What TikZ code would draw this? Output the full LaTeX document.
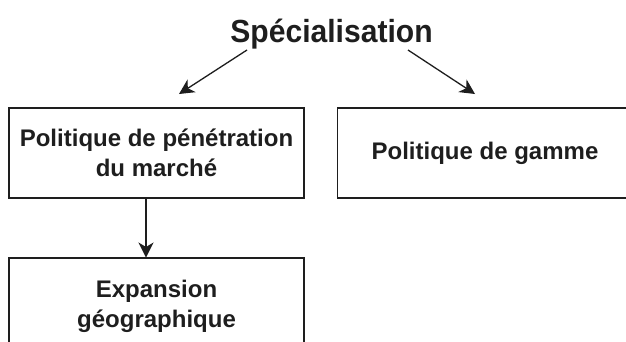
\documentclass[tikz,border=0pt]{standalone}
\usepackage{fontspec}
\setmainfont{Liberation Sans}
\newfontfamily\titlefont{Liberation Sans}[FakeStretch=0.94]
\usetikzlibrary{arrows.meta}
\definecolor{ink}{HTML}{1E1E1E}
\tikzset{
  box/.style={draw=ink, line width=1.4pt, minimum width=295pt, minimum height=90pt,
    align=center, inner sep=0pt, text=ink,
    font=\fontsize{24}{30}\selectfont\bfseries},
  conn/.style={draw=ink, line width=1.3pt,
    -{Stealth[length=15pt, width=15pt, inset=4.5pt]}}
}
\begin{document}
\begin{tikzpicture}[x=1pt, y=-1pt]
\useasboundingbox (0,0) rectangle (626,341);
\node[text=ink, font=\titlefont\fontsize{32}{36}\selectfont\bfseries, inner sep=0pt, anchor=base] (title) at (331.5,42) {Spécialisation};
\node[box] (pen) at (156.5,153) {Politique de pénétration\\du marché};
\node[box] (gam) at (485,153) {Politique de gamme};
\node[box, minimum height=96pt] (geo) at (156.5,306) {Expansion\\géographique};
\coordinate (l0) at (247,50);
\coordinate (l1) at (179,94);
\coordinate (r0) at (408,50);
\coordinate (r1) at (475,94);
\draw[conn] (l0) -- (l1);
\draw[conn] (r0) -- (r1);
\draw[conn] (pen.south -| 146,0) -- (146,257.5);
\end{tikzpicture}
\end{document}
